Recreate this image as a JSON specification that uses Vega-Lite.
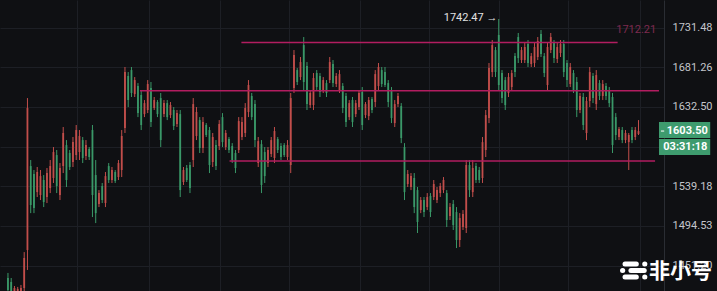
{
"$schema":"https://vega.github.io/schema/vega-lite/v6.json",
"width":664,"height":291,
"autosize":{"type":"none"},
"padding":{"left":0,"top":0,"right":53,"bottom":0},
"background":"#0f1013",
"config":{"view":{"stroke":null},
"axisX":{"grid":true,"gridColor":"#1d1f25","gridWidth":1,"labels":false,"ticks":false,"domain":false,"title":null,"zindex":0},
"axisY":{"grid":true,"gridColor":"#1d1f25","ticks":false,"domain":true,"domainColor":"#2a2d33","labelColor":"#c3c5cb","labelFontSize":11,"labelFont":"Roboto","labelPadding":8,"title":null,"zindex":0,"labelExpr":"abs(datum.value - 1585.16) < 1 ? '' : datum.label"}},
"datasets":{
"candles":[
{"t":0,"o":1437.9,"h":1443.3,"l":1424.1,"c":1425.2},
{"t":1,"o":1433.7,"h":1437.9,"l":1422.0,"c":1423.1},
{"t":2,"o":1424.1,"h":1429.4,"l":1419.9,"c":1427.3},
{"t":3,"o":1423.1,"h":1428.4,"l":1419.9,"c":1426.3},
{"t":4,"o":1423.1,"h":1430.5,"l":1419.9,"c":1427.3},
{"t":5,"o":1427.3,"h":1465.8,"l":1422.0,"c":1459.4},
{"t":6,"o":1468.0,"h":1643.2,"l":1446.5,"c":1631.1},
{"t":7,"o":1562.4,"h":1569.4,"l":1508.8,"c":1517.9},
{"t":8,"o":1553.2,"h":1557.8,"l":1508.8,"c":1514.5},
{"t":9,"o":1532.5,"h":1561.3,"l":1526.9,"c":1555.5},
{"t":10,"o":1529.2,"h":1557.8,"l":1523.5,"c":1550.8},
{"t":11,"o":1546.3,"h":1552.0,"l":1515.6,"c":1521.2},
{"t":12,"o":1526.9,"h":1560.1,"l":1520.1,"c":1554.3},
{"t":13,"o":1537.1,"h":1569.4,"l":1531.4,"c":1562.4},
{"t":14,"o":1548.6,"h":1584.6,"l":1542.9,"c":1578.7},
{"t":15,"o":1575.2,"h":1581.1,"l":1531.4,"c":1539.4},
{"t":16,"o":1529.2,"h":1565.9,"l":1523.5,"c":1560.1},
{"t":17,"o":1562.4,"h":1608.3,"l":1554.3,"c":1601.2},
{"t":18,"o":1586.9,"h":1592.8,"l":1538.3,"c":1546.3},
{"t":19,"o":1577.6,"h":1581.1,"l":1557.8,"c":1561.3},
{"t":20,"o":1567.1,"h":1596.4,"l":1561.3,"c":1590.4},
{"t":21,"o":1575.2,"h":1610.7,"l":1569.4,"c":1604.7},
{"t":22,"o":1578.7,"h":1604.7,"l":1569.4,"c":1597.6},
{"t":23,"o":1592.8,"h":1596.4,"l":1565.9,"c":1571.7},
{"t":24,"o":1574.0,"h":1592.8,"l":1569.4,"c":1586.9},
{"t":25,"o":1582.3,"h":1584.6,"l":1569.4,"c":1572.9},
{"t":26,"o":1604.7,"h":1610.7,"l":1504.4,"c":1529.2},
{"t":27,"o":1552.0,"h":1569.4,"l":1497.7,"c":1508.8},
{"t":28,"o":1519.0,"h":1534.8,"l":1515.6,"c":1531.4},
{"t":29,"o":1539.4,"h":1542.9,"l":1520.1,"c":1523.5},
{"t":30,"o":1520.1,"h":1555.5,"l":1515.6,"c":1550.8},
{"t":31,"o":1562.4,"h":1565.9,"l":1542.9,"c":1546.3},
{"t":32,"o":1546.3,"h":1561.3,"l":1542.9,"c":1557.8},
{"t":33,"o":1555.5,"h":1557.8,"l":1542.9,"c":1545.1},
{"t":34,"o":1549.7,"h":1569.4,"l":1546.3,"c":1565.9},
{"t":35,"o":1557.8,"h":1604.7,"l":1549.7,"c":1597.6},
{"t":36,"o":1607.1,"h":1681.5,"l":1601.2,"c":1675.2},
{"t":37,"o":1670.3,"h":1675.2,"l":1632.3,"c":1640.8},
{"t":38,"o":1677.7,"h":1681.5,"l":1644.5,"c":1649.4},
{"t":39,"o":1648.1,"h":1669.0,"l":1644.5,"c":1665.3},
{"t":40,"o":1658.0,"h":1661.6,"l":1620.2,"c":1625.0},
{"t":41,"o":1646.9,"h":1653.0,"l":1604.7,"c":1610.7},
{"t":42,"o":1623.8,"h":1640.8,"l":1620.2,"c":1637.1},
{"t":43,"o":1628.7,"h":1665.3,"l":1625.0,"c":1660.4},
{"t":44,"o":1655.5,"h":1662.9,"l":1608.3,"c":1614.2},
{"t":45,"o":1631.1,"h":1644.5,"l":1628.7,"c":1640.8},
{"t":46,"o":1638.4,"h":1640.8,"l":1620.2,"c":1623.8},
{"t":47,"o":1643.2,"h":1649.4,"l":1584.6,"c":1592.8},
{"t":48,"o":1623.8,"h":1640.8,"l":1620.2,"c":1637.1},
{"t":49,"o":1637.1,"h":1640.8,"l":1616.6,"c":1620.2},
{"t":50,"o":1622.6,"h":1638.4,"l":1619.0,"c":1634.7},
{"t":51,"o":1628.7,"h":1632.3,"l":1604.7,"c":1609.5},
{"t":52,"o":1611.9,"h":1628.7,"l":1608.3,"c":1625.0},
{"t":53,"o":1623.8,"h":1628.7,"l":1526.9,"c":1534.8},
{"t":54,"o":1544.0,"h":1561.3,"l":1540.6,"c":1557.8},
{"t":55,"o":1560.1,"h":1563.6,"l":1544.0,"c":1546.3},
{"t":56,"o":1563.6,"h":1567.1,"l":1531.4,"c":1537.1},
{"t":57,"o":1569.4,"h":1643.2,"l":1561.3,"c":1635.9},
{"t":58,"o":1597.6,"h":1632.3,"l":1592.8,"c":1626.3},
{"t":59,"o":1616.6,"h":1620.2,"l":1577.6,"c":1583.4},
{"t":60,"o":1583.4,"h":1620.2,"l":1577.6,"c":1614.2},
{"t":61,"o":1610.7,"h":1613.0,"l":1596.4,"c":1598.8},
{"t":62,"o":1604.7,"h":1608.3,"l":1554.3,"c":1563.6},
{"t":63,"o":1567.1,"h":1601.2,"l":1561.3,"c":1596.4},
{"t":64,"o":1586.9,"h":1592.8,"l":1557.8,"c":1562.4},
{"t":65,"o":1585.7,"h":1616.6,"l":1581.1,"c":1611.9},
{"t":66,"o":1620.2,"h":1625.0,"l":1584.6,"c":1590.4},
{"t":67,"o":1584.6,"h":1604.7,"l":1581.1,"c":1601.2},
{"t":68,"o":1594.0,"h":1596.4,"l":1577.6,"c":1581.1},
{"t":69,"o":1585.7,"h":1589.2,"l":1565.9,"c":1569.4},
{"t":70,"o":1577.6,"h":1581.1,"l":1554.3,"c":1560.1},
{"t":71,"o":1581.1,"h":1620.2,"l":1577.6,"c":1615.4},
{"t":72,"o":1596.4,"h":1620.2,"l":1592.8,"c":1614.2},
{"t":73,"o":1601.2,"h":1637.1,"l":1596.4,"c":1631.1},
{"t":74,"o":1626.3,"h":1665.3,"l":1620.2,"c":1659.2},
{"t":75,"o":1645.7,"h":1649.4,"l":1616.6,"c":1620.2},
{"t":76,"o":1635.9,"h":1640.8,"l":1584.6,"c":1592.8},
{"t":77,"o":1565.9,"h":1596.4,"l":1561.3,"c":1591.6},
{"t":78,"o":1588.0,"h":1592.8,"l":1531.4,"c":1540.6},
{"t":79,"o":1578.7,"h":1584.6,"l":1542.9,"c":1550.8},
{"t":80,"o":1565.9,"h":1584.6,"l":1561.3,"c":1581.1},
{"t":81,"o":1576.4,"h":1596.4,"l":1572.9,"c":1592.8},
{"t":82,"o":1571.7,"h":1608.3,"l":1565.9,"c":1603.5},
{"t":83,"o":1594.0,"h":1596.4,"l":1577.6,"c":1581.1},
{"t":84,"o":1585.7,"h":1589.2,"l":1569.4,"c":1572.9},
{"t":85,"o":1586.9,"h":1589.2,"l":1572.9,"c":1575.2},
{"t":86,"o":1572.9,"h":1592.8,"l":1569.4,"c":1586.9},
{"t":87,"o":1563.6,"h":1649.4,"l":1554.3,"c":1643.2},
{"t":88,"o":1655.5,"h":1702.8,"l":1649.4,"c":1696.5},
{"t":89,"o":1677.7,"h":1680.2,"l":1659.2,"c":1662.9},
{"t":90,"o":1669.0,"h":1694.0,"l":1665.3,"c":1687.7},
{"t":91,"o":1709.1,"h":1719.3,"l":1653.0,"c":1662.9},
{"t":92,"o":1682.7,"h":1687.7,"l":1628.7,"c":1635.9},
{"t":93,"o":1634.7,"h":1653.0,"l":1631.1,"c":1649.4},
{"t":94,"o":1634.7,"h":1674.0,"l":1628.7,"c":1667.8},
{"t":95,"o":1674.0,"h":1677.7,"l":1653.0,"c":1656.7},
{"t":96,"o":1670.3,"h":1674.0,"l":1644.5,"c":1650.6},
{"t":97,"o":1653.0,"h":1669.0,"l":1649.4,"c":1665.3},
{"t":98,"o":1661.6,"h":1665.3,"l":1644.5,"c":1649.4},
{"t":99,"o":1665.3,"h":1694.0,"l":1661.6,"c":1687.7},
{"t":100,"o":1685.2,"h":1690.2,"l":1656.7,"c":1661.6},
{"t":101,"o":1660.4,"h":1674.0,"l":1656.7,"c":1670.3},
{"t":102,"o":1653.0,"h":1677.7,"l":1649.4,"c":1672.7},
{"t":103,"o":1658.0,"h":1661.6,"l":1625.0,"c":1631.1},
{"t":104,"o":1645.7,"h":1649.4,"l":1608.3,"c":1614.2},
{"t":105,"o":1620.2,"h":1640.8,"l":1616.6,"c":1637.1},
{"t":106,"o":1640.8,"h":1644.5,"l":1608.3,"c":1614.2},
{"t":107,"o":1623.8,"h":1640.8,"l":1620.2,"c":1637.1},
{"t":108,"o":1632.3,"h":1653.0,"l":1628.7,"c":1649.4},
{"t":109,"o":1650.6,"h":1656.7,"l":1604.7,"c":1610.7},
{"t":110,"o":1622.6,"h":1638.4,"l":1619.0,"c":1635.9},
{"t":111,"o":1621.4,"h":1644.5,"l":1616.6,"c":1640.8},
{"t":112,"o":1642.0,"h":1644.5,"l":1625.0,"c":1628.7},
{"t":113,"o":1638.4,"h":1677.7,"l":1632.3,"c":1672.7},
{"t":114,"o":1658.0,"h":1686.5,"l":1653.0,"c":1681.5},
{"t":115,"o":1677.7,"h":1681.5,"l":1656.7,"c":1660.4},
{"t":116,"o":1675.2,"h":1681.5,"l":1656.7,"c":1659.2},
{"t":117,"o":1661.6,"h":1665.3,"l":1632.3,"c":1638.4},
{"t":118,"o":1653.0,"h":1656.7,"l":1613.0,"c":1619.0},
{"t":119,"o":1613.0,"h":1640.8,"l":1608.3,"c":1635.9},
{"t":120,"o":1635.9,"h":1649.4,"l":1632.3,"c":1645.7},
{"t":121,"o":1633.5,"h":1637.1,"l":1589.2,"c":1595.2},
{"t":122,"o":1584.6,"h":1589.2,"l":1523.5,"c":1532.5},
{"t":123,"o":1541.7,"h":1557.8,"l":1538.3,"c":1553.2},
{"t":124,"o":1538.3,"h":1554.3,"l":1534.8,"c":1550.8},
{"t":125,"o":1548.6,"h":1554.3,"l":1508.8,"c":1515.6},
{"t":126,"o":1534.8,"h":1538.3,"l":1486.7,"c":1498.9},
{"t":127,"o":1512.2,"h":1526.9,"l":1508.8,"c":1523.5},
{"t":128,"o":1523.5,"h":1526.9,"l":1504.4,"c":1510.0},
{"t":129,"o":1515.6,"h":1531.4,"l":1512.2,"c":1526.9},
{"t":130,"o":1528.1,"h":1531.4,"l":1504.4,"c":1510.0},
{"t":131,"o":1526.9,"h":1546.3,"l":1523.5,"c":1541.7},
{"t":132,"o":1523.5,"h":1538.3,"l":1520.1,"c":1534.8},
{"t":133,"o":1531.4,"h":1542.9,"l":1526.9,"c":1539.4},
{"t":134,"o":1534.8,"h":1549.7,"l":1531.4,"c":1546.3},
{"t":135,"o":1531.4,"h":1534.8,"l":1493.3,"c":1501.1},
{"t":136,"o":1505.5,"h":1520.1,"l":1501.1,"c":1515.6},
{"t":137,"o":1519.0,"h":1523.5,"l":1490.0,"c":1495.5},
{"t":138,"o":1510.0,"h":1515.6,"l":1470.2,"c":1479.0},
{"t":139,"o":1479.0,"h":1508.8,"l":1471.3,"c":1503.3},
{"t":140,"o":1493.3,"h":1512.2,"l":1490.0,"c":1507.7},
{"t":141,"o":1492.2,"h":1569.4,"l":1486.7,"c":1563.6},
{"t":142,"o":1563.6,"h":1569.4,"l":1526.9,"c":1534.8},
{"t":143,"o":1532.5,"h":1569.4,"l":1526.9,"c":1560.1},
{"t":144,"o":1562.4,"h":1565.9,"l":1542.9,"c":1546.3},
{"t":145,"o":1557.8,"h":1561.3,"l":1542.9,"c":1546.3},
{"t":146,"o":1548.6,"h":1596.4,"l":1542.9,"c":1590.4},
{"t":147,"o":1581.1,"h":1628.7,"l":1572.9,"c":1622.6},
{"t":148,"o":1619.0,"h":1686.5,"l":1613.0,"c":1680.2},
{"t":149,"o":1675.2,"h":1715.5,"l":1669.0,"c":1709.1},
{"t":150,"o":1702.8,"h":1706.6,"l":1669.0,"c":1675.2},
{"t":151,"o":1721.9,"h":1742.47,"l":1653.0,"c":1659.2},
{"t":152,"o":1674.0,"h":1677.7,"l":1637.1,"c":1643.2},
{"t":153,"o":1665.3,"h":1669.0,"l":1628.7,"c":1634.7},
{"t":154,"o":1649.4,"h":1674.0,"l":1644.5,"c":1669.0},
{"t":155,"o":1656.7,"h":1677.7,"l":1653.0,"c":1674.0},
{"t":156,"o":1695.2,"h":1699.0,"l":1669.0,"c":1675.2},
{"t":157,"o":1719.3,"h":1724.5,"l":1686.5,"c":1692.7},
{"t":158,"o":1690.2,"h":1706.6,"l":1686.5,"c":1702.8},
{"t":159,"o":1690.2,"h":1711.7,"l":1686.5,"c":1706.6},
{"t":160,"o":1710.4,"h":1715.5,"l":1681.5,"c":1686.5},
{"t":161,"o":1685.2,"h":1699.0,"l":1681.5,"c":1695.2},
{"t":162,"o":1686.5,"h":1711.7,"l":1681.5,"c":1706.6},
{"t":163,"o":1694.0,"h":1719.3,"l":1690.2,"c":1714.2},
{"t":164,"o":1723.2,"h":1728.3,"l":1694.0,"c":1697.8},
{"t":165,"o":1695.2,"h":1699.0,"l":1669.0,"c":1674.0},
{"t":166,"o":1659.2,"h":1711.7,"l":1653.0,"c":1706.6},
{"t":167,"o":1702.8,"h":1724.5,"l":1699.0,"c":1719.3},
{"t":168,"o":1711.7,"h":1715.5,"l":1686.5,"c":1692.7},
{"t":169,"o":1691.5,"h":1711.7,"l":1686.5,"c":1706.6},
{"t":170,"o":1699.0,"h":1715.5,"l":1694.0,"c":1710.4},
{"t":171,"o":1710.4,"h":1715.5,"l":1669.0,"c":1675.2},
{"t":172,"o":1686.5,"h":1690.2,"l":1656.7,"c":1665.3},
{"t":173,"o":1660.4,"h":1686.5,"l":1656.7,"c":1681.5},
{"t":174,"o":1674.0,"h":1677.7,"l":1649.4,"c":1653.0},
{"t":175,"o":1662.9,"h":1669.0,"l":1620.2,"c":1628.7},
{"t":176,"o":1628.7,"h":1649.4,"l":1625.0,"c":1645.7},
{"t":177,"o":1644.5,"h":1649.4,"l":1604.7,"c":1610.7},
{"t":178,"o":1601.2,"h":1644.5,"l":1592.8,"c":1639.6},
{"t":179,"o":1639.6,"h":1681.5,"l":1632.3,"c":1675.2},
{"t":180,"o":1670.3,"h":1674.0,"l":1637.1,"c":1643.2},
{"t":181,"o":1635.9,"h":1677.7,"l":1628.7,"c":1671.5},
{"t":182,"o":1661.6,"h":1665.3,"l":1640.8,"c":1645.7},
{"t":183,"o":1645.7,"h":1665.3,"l":1640.8,"c":1660.4},
{"t":184,"o":1658.0,"h":1661.6,"l":1640.8,"c":1645.7},
{"t":185,"o":1653.0,"h":1656.7,"l":1632.3,"c":1637.1},
{"t":186,"o":1644.5,"h":1649.4,"l":1577.6,"c":1586.9},
{"t":187,"o":1620.2,"h":1625.0,"l":1592.8,"c":1598.8},
{"t":188,"o":1596.4,"h":1608.3,"l":1592.8,"c":1605.9},
{"t":189,"o":1604.7,"h":1608.3,"l":1589.2,"c":1592.8},
{"t":190,"o":1592.8,"h":1604.7,"l":1589.2,"c":1601.2},
{"t":191,"o":1590.4,"h":1601.2,"l":1557.8,"c":1598.8},
{"t":192,"o":1604.7,"h":1608.3,"l":1589.2,"c":1592.8},
{"t":193,"o":1596.4,"h":1608.3,"l":1592.8,"c":1604.7},
{"t":194,"o":1600.0,"h":1616.6,"l":1598.8,"c":1603.5}
],
"levels":[
{"t1":71.82,"t2":187.58,"p":1712.21},
{"t1":40.61,"t2":200.3,"p":1652.2},
{"t1":68.18,"t2":199.09,"p":1568.2}
],
"hilabel":[{"t":150.6,"p":1743.7,"label":"1742.47 →"}],
"levellabel":[{"t":193.3,"p":1728.3,"label":"1712.21"}],
"pricebox":[
{"t1":200.3,"t2":216.06,"p1":1614.3,"p2":1595.2},
{"t1":200.3,"t2":216.06,"p1":1594.0,"p2":1575.2}
],
"pricetext":[
{"t":209.0,"p":1603.5,"label":"1603.50"},
{"t":208.4,"p":1584.6,"label":"03:31:18"}
],
"pricedash":[{"t1":200.9,"t2":201.9,"p":1603.5}],
"logo":[
{"t1":189.85,"t2":193.33,"p":1452.9},
{"t1":195.9,"t2":195.95,"p":1452.9},
{"t1":189.09,"t2":189.14,"p":1446.0},
{"t1":191.67,"t2":195.76,"p":1446.0},
{"t1":189.85,"t2":193.33,"p":1439.0},
{"t1":195.9,"t2":195.95,"p":1439.0}
],
"mark":[{"t":206.9,"p":1444.4,"label":"非小号"}]
},
"layer":[
{"data":{"name":"candles"},"mark":{"type":"rule","strokeWidth":1},
"encoding":{
"x":{"field":"t","type":"quantitative","scale":{"type":"linear","domain":[-0.909,200.303],"nice":false,"zero":false},
"axis":{"values":[21.21,43.33,65.15,86.36,108.18,129.39,151.21,172.42,194.55]}},
"y":{"field":"l","type":"quantitative","scale":{"type":"log","domain":[1424.1,1767.2],"nice":false},
"axis":{"orient":"right","values":[1451.2,1494.53,1539.18,1585.16,1632.5,1681.26,1731.48],"format":".2f"}},
"y2":{"field":"h"},
"color":{"condition":{"test":"datum.c >= datum.o","value":"#c24e4b"},"value":"#3a9868"}}},
{"data":{"name":"candles"},"mark":{"type":"bar","width":1.8},
"encoding":{
"x":{"field":"t","type":"quantitative","scale":{"type":"linear","domain":[-0.909,200.303],"nice":false,"zero":false},
"axis":{"values":[21.21,43.33,65.15,86.36,108.18,129.39,151.21,172.42,194.55]}},
"y":{"field":"o","type":"quantitative","scale":{"type":"log","domain":[1424.1,1767.2],"nice":false},
"axis":{"orient":"right","values":[1451.2,1494.53,1539.18,1585.16,1632.5,1681.26,1731.48],"format":".2f"}},
"y2":{"field":"c"},
"color":{"condition":{"test":"datum.c >= datum.o","value":"#c24e4b"},"value":"#3a9868"}}},
{"data":{"name":"levels"},"mark":{"type":"rule","strokeWidth":1.5,"color":"#b21d60"},
"encoding":{
"x":{"field":"t1","type":"quantitative","scale":{"type":"linear","domain":[-0.909,200.303],"nice":false,"zero":false},
"axis":{"values":[21.21,43.33,65.15,86.36,108.18,129.39,151.21,172.42,194.55]}},
"x2":{"field":"t2"},
"y":{"field":"p","type":"quantitative","scale":{"type":"log","domain":[1424.1,1767.2],"nice":false},
"axis":{"orient":"right","values":[1451.2,1494.53,1539.18,1585.16,1632.5,1681.26,1731.48],"format":".2f"}}}},
{"data":{"name":"hilabel"},"mark":{"type":"text","align":"right","baseline":"middle","fontSize":11,"font":"Roboto","color":"#e2e2e2"},
"encoding":{
"x":{"field":"t","type":"quantitative","scale":{"type":"linear","domain":[-0.909,200.303],"nice":false,"zero":false},
"axis":{"values":[21.21,43.33,65.15,86.36,108.18,129.39,151.21,172.42,194.55]}},
"y":{"field":"p","type":"quantitative","scale":{"type":"log","domain":[1424.1,1767.2],"nice":false},
"axis":{"orient":"right","values":[1451.2,1494.53,1539.18,1585.16,1632.5,1681.26,1731.48],"format":".2f"}},
"text":{"field":"label"}}},
{"data":{"name":"levellabel"},"mark":{"type":"text","align":"center","baseline":"middle","fontSize":11,"font":"Roboto","color":"#7e2a4f"},
"encoding":{
"x":{"field":"t","type":"quantitative","scale":{"type":"linear","domain":[-0.909,200.303],"nice":false,"zero":false},
"axis":{"values":[21.21,43.33,65.15,86.36,108.18,129.39,151.21,172.42,194.55]}},
"y":{"field":"p","type":"quantitative","scale":{"type":"log","domain":[1424.1,1767.2],"nice":false},
"axis":{"orient":"right","values":[1451.2,1494.53,1539.18,1585.16,1632.5,1681.26,1731.48],"format":".2f"}},
"text":{"field":"label"}}},
{"data":{"name":"pricebox"},"mark":{"type":"rect","color":"#3e9b6e"},
"encoding":{
"x":{"field":"t1","type":"quantitative","scale":{"type":"linear","domain":[-0.909,200.303],"nice":false,"zero":false},
"axis":{"values":[21.21,43.33,65.15,86.36,108.18,129.39,151.21,172.42,194.55]}},
"x2":{"field":"t2"},
"y":{"field":"p1","type":"quantitative","scale":{"type":"log","domain":[1424.1,1767.2],"nice":false},
"axis":{"orient":"right","values":[1451.2,1494.53,1539.18,1585.16,1632.5,1681.26,1731.48],"format":".2f"}},
"y2":{"field":"p2"}}},
{"data":{"name":"pricedash"},"mark":{"type":"rule","strokeWidth":1,"color":"#ffffff"},
"encoding":{
"x":{"field":"t1","type":"quantitative","scale":{"type":"linear","domain":[-0.909,200.303],"nice":false,"zero":false},
"axis":{"values":[21.21,43.33,65.15,86.36,108.18,129.39,151.21,172.42,194.55]}},
"x2":{"field":"t2"},
"y":{"field":"p","type":"quantitative","scale":{"type":"log","domain":[1424.1,1767.2],"nice":false},
"axis":{"orient":"right","values":[1451.2,1494.53,1539.18,1585.16,1632.5,1681.26,1731.48],"format":".2f"}}}},
{"data":{"name":"pricetext"},"mark":{"type":"text","align":"center","baseline":"middle","fontSize":11,"fontWeight":"bold","font":"Roboto","color":"#ffffff"},
"encoding":{
"x":{"field":"t","type":"quantitative","scale":{"type":"linear","domain":[-0.909,200.303],"nice":false,"zero":false},
"axis":{"values":[21.21,43.33,65.15,86.36,108.18,129.39,151.21,172.42,194.55]}},
"y":{"field":"p","type":"quantitative","scale":{"type":"log","domain":[1424.1,1767.2],"nice":false},
"axis":{"orient":"right","values":[1451.2,1494.53,1539.18,1585.16,1632.5,1681.26,1731.48],"format":".2f"}},
"text":{"field":"label"}}},
{"data":{"name":"logo"},"mark":{"type":"rule","strokeWidth":5,"strokeCap":"round","color":"#ffffff"},
"encoding":{
"x":{"field":"t1","type":"quantitative","scale":{"type":"linear","domain":[-0.909,200.303],"nice":false,"zero":false},
"axis":{"values":[21.21,43.33,65.15,86.36,108.18,129.39,151.21,172.42,194.55]}},
"x2":{"field":"t2"},
"y":{"field":"p","type":"quantitative","scale":{"type":"log","domain":[1424.1,1767.2],"nice":false},
"axis":{"orient":"right","values":[1451.2,1494.53,1539.18,1585.16,1632.5,1681.26,1731.48],"format":".2f"}}}},
{"data":{"name":"mark"},"mark":{"type":"text","align":"center","baseline":"middle","fontSize":21,"fontWeight":"bold","font":"Noto Sans CJK SC","color":"#ffffff"},
"encoding":{
"x":{"field":"t","type":"quantitative","scale":{"type":"linear","domain":[-0.909,200.303],"nice":false,"zero":false},
"axis":{"values":[21.21,43.33,65.15,86.36,108.18,129.39,151.21,172.42,194.55]}},
"y":{"field":"p","type":"quantitative","scale":{"type":"log","domain":[1424.1,1767.2],"nice":false},
"axis":{"orient":"right","values":[1451.2,1494.53,1539.18,1585.16,1632.5,1681.26,1731.48],"format":".2f"}},
"text":{"field":"label"}}}
]
}
